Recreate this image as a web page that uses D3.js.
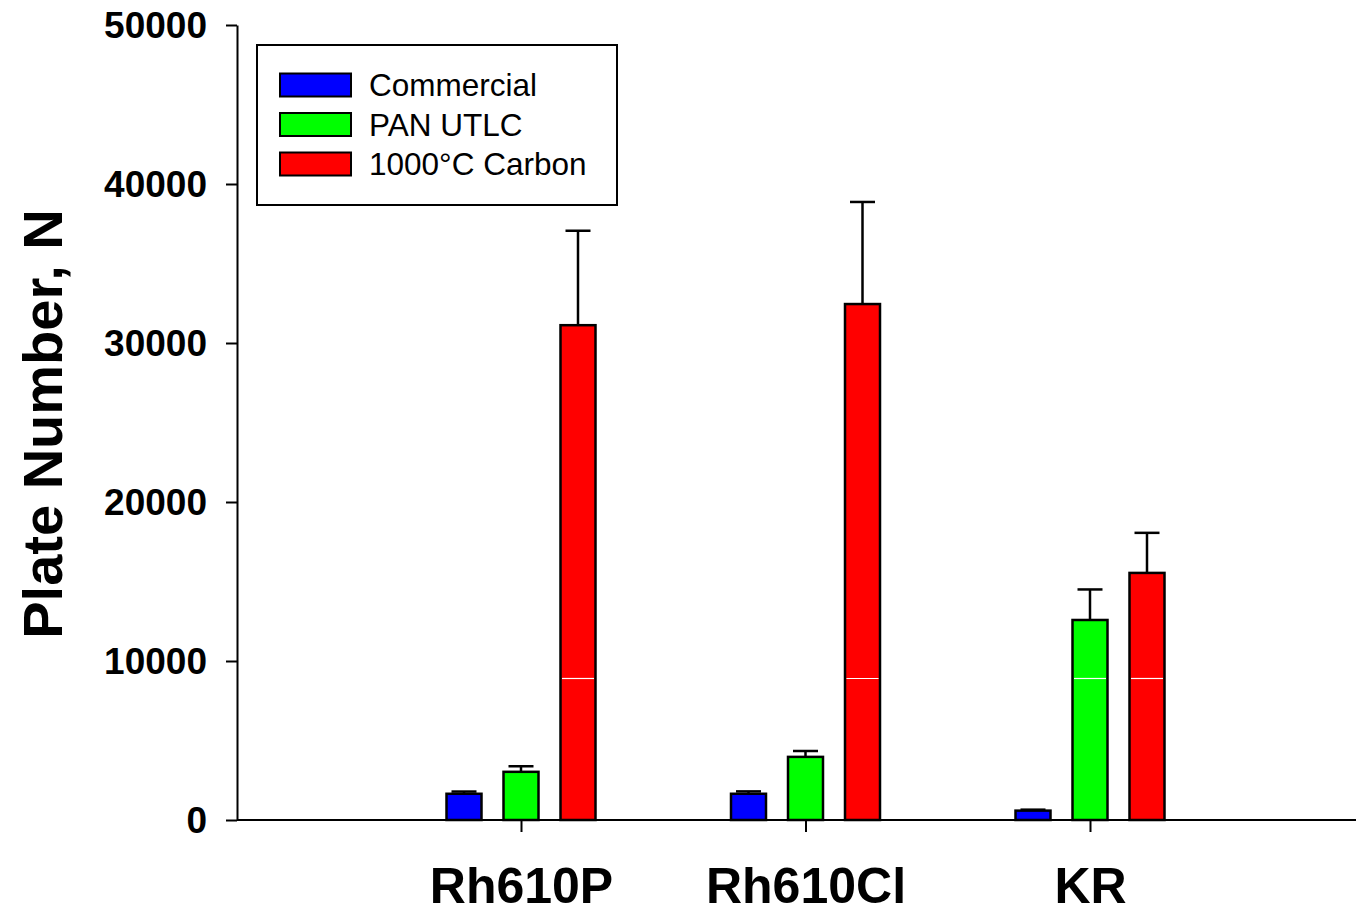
<!DOCTYPE html>
<html>
<head>
<meta charset="utf-8">
<script src="https://cdn.jsdelivr.net/npm/d3@7"></script>
<style>
  html, body { margin: 0; padding: 0; background: #fff; }
  svg { display: block; }
  text { font-family: "Liberation Sans", Arial, sans-serif; }
</style>
</head>
<body>
<svg id="chart" width="1356" height="910"></svg>
<script>
// Dyes tested on each plate type
const categories = ["Rh610P", "Rh610Cl", "KR"];
const seriesNames = ["Commercial", "PAN UTLC", "1000\u00B0C Carbon"];
const seriesColors = ["#0000ff", "#00ff00", "#ff0000"];

// Mean plate numbers per series (same order as categories)
const commercial = [1650, 1650, 590];
const panUtlc = [3030, 3970, 12580];
const carbon1000 = [31120, 32450, 15540];

// Upper error bar ends
const commercialErr = [1790, 1800, 650];
const panUtlcErr = [3380, 4340, 14500];
const carbon1000Err = [37060, 38870, 18060];

// Thin white band line visible inside taller bars
const bandLineValue = 8900;

const yTicks = [0, 10000, 20000, 30000, 40000, 50000];

const seriesValues = [commercial, panUtlc, carbon1000];
const seriesErrors = [commercialErr, panUtlcErr, carbon1000Err];

const svg = d3.select("#chart");

const axisLeftX = 237;
const y0 = 820;

const y = d3.scaleLinear().domain([0, 50000]).range([y0, 25]);
const x = d3.scalePoint().domain(categories).range([521, 1090]);
const xOffset = d3.scalePoint().domain(seriesNames).range([-57, 57]);
const barW = 35;
const capW = 25;

const rows = [];
seriesNames.forEach((s, si) => {
  categories.forEach((c, ci) => {
    rows.push({ series: s, si, cat: c, value: seriesValues[si][ci], err: seriesErrors[si][ci] });
  });
});

const g = svg.append("g");

// Error bars (upper half only)
g.selectAll("line.stem").data(rows).join("line")
  .attr("class", "stem")
  .attr("x1", d => x(d.cat) + xOffset(d.series))
  .attr("x2", d => x(d.cat) + xOffset(d.series))
  .attr("y1", d => y(d.value))
  .attr("y2", d => y(d.err))
  .attr("stroke", "#000").attr("stroke-width", 2.5);

g.selectAll("line.cap").data(rows).join("line")
  .attr("class", "cap")
  .attr("x1", d => x(d.cat) + xOffset(d.series) - capW / 2)
  .attr("x2", d => x(d.cat) + xOffset(d.series) + capW / 2)
  .attr("y1", d => y(d.err))
  .attr("y2", d => y(d.err))
  .attr("stroke", "#000").attr("stroke-width", 2.5);

// Bars
g.selectAll("rect.bar").data(rows).join("rect")
  .attr("class", "bar")
  .attr("x", d => x(d.cat) + xOffset(d.series) - barW / 2)
  .attr("y", d => y(d.value))
  .attr("width", barW)
  .attr("height", d => y0 - y(d.value))
  .attr("fill", d => seriesColors[d.si])
  .attr("stroke", "#000").attr("stroke-width", 2.5);

// White band line inside the bars that reach above it
g.selectAll("line.band").data(rows.filter(d => d.value > bandLineValue)).join("line")
  .attr("class", "band")
  .attr("x1", d => x(d.cat) + xOffset(d.series) - barW / 2 + 1.5)
  .attr("x2", d => x(d.cat) + xOffset(d.series) + barW / 2 - 1.5)
  .attr("y1", y(bandLineValue))
  .attr("y2", y(bandLineValue))
  .attr("stroke", "#fff").attr("stroke-width", 1.2);

// Y axis
const yAxis = svg.append("g")
  .attr("transform", `translate(${axisLeftX},0)`)
  .call(d3.axisLeft(y).tickValues(yTicks).tickFormat(d3.format("d")).tickSize(11).tickSizeOuter(0).tickPadding(19));
yAxis.select(".domain").attr("stroke", "#000").attr("stroke-width", 2);
yAxis.selectAll(".tick line").attr("stroke", "#000").attr("stroke-width", 2);
yAxis.selectAll(".tick text")
  .attr("font-size", 37).attr("font-weight", "bold").attr("fill", "#000")
  .attr("dy", "0.35em")
  .attr("font-family", "Liberation Sans, Arial, sans-serif");

// X axis
svg.append("line")
  .attr("x1", axisLeftX).attr("x2", 1356)
  .attr("y1", y0).attr("y2", y0)
  .attr("stroke", "#000").attr("stroke-width", 2);
const xAxis = svg.append("g")
  .attr("transform", `translate(0,${y0})`)
  .call(d3.axisBottom(x).tickSize(12).tickPadding(0));
xAxis.select(".domain").remove();
xAxis.selectAll(".tick line").attr("stroke", "#000").attr("stroke-width", 2);
xAxis.selectAll(".tick text")
  .attr("y", 83).attr("dy", 0)
  .attr("font-size", 50).attr("font-weight", "bold").attr("fill", "#000")
  .attr("font-family", "Liberation Sans, Arial, sans-serif");

// Y axis title
svg.append("text")
  .attr("transform", `translate(62,424) rotate(-90)`)
  .attr("text-anchor", "middle")
  .attr("font-size", 56).attr("font-weight", "bold").attr("fill", "#000")
  .text("Plate Number, N");

// Legend
const legend = svg.append("g");
legend.append("rect")
  .attr("x", 257).attr("y", 45).attr("width", 360).attr("height", 160)
  .attr("fill", "#fff").attr("stroke", "#000").attr("stroke-width", 2);
const items = legend.selectAll("g.item").data(seriesNames).join("g")
  .attr("class", "item")
  .attr("transform", (d, i) => `translate(280,${85 + i * 39.5})`);
items.append("rect")
  .attr("x", 0).attr("y", -11.5).attr("width", 71).attr("height", 23)
  .attr("fill", (d, i) => seriesColors[i])
  .attr("stroke", "#000").attr("stroke-width", 2);
items.append("text")
  .attr("x", 89).attr("y", 11)
  .attr("font-size", 31.5).attr("fill", "#000")
  .text(d => d);
</script>
</body>
</html>
